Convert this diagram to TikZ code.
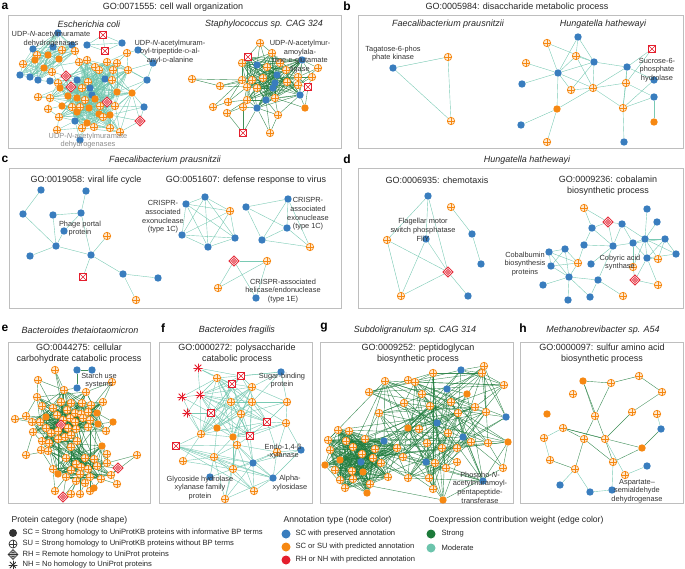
\documentclass[tikz,border=0pt]{standalone}
\usepackage{fontspec}
\setmainfont{Liberation Sans}
\usetikzlibrary{shapes.geometric}

\definecolor{cblue}{RGB}{57,125,190}
\definecolor{corange}{RGB}{246,136,18}
\definecolor{cred}{RGB}{228,30,45}
\definecolor{cstrong}{RGB}{28,122,58}
\definecolor{cmoder}{RGB}{108,196,172}
\definecolor{cframe}{RGB}{190,190,190}

\pgfdeclarelayer{edges}
\pgfsetlayers{edges,main}

\newcommand{\smD}{{\fontsize{5.6}{6}\selectfont D}}

\begin{document}
\begin{tikzpicture}[x=1pt,y=-1pt]
  \tikzset{nd/.style = {circle,inner sep=0pt,minimum size=7.4pt}}
  \tikzset{scb/.style = {nd,fill=cblue}}
  \tikzset{sco/.style = {nd,fill=corange}}
  \tikzset{cross/.style = {path picture={\draw[#1,line width=0.55pt] (path picture bounding box.north) -- (path picture bounding box.south) (path picture bounding box.west) -- (path picture bounding box.east);}}}
  \tikzset{xpic/.style = {path picture={\draw[#1,line width=0.55pt] (path picture bounding box.north west) -- (path picture bounding box.south east) (path picture bounding box.south west) -- (path picture bounding box.north east);}}}
  \tikzset{rhpic/.style = {path picture={\draw[#1,line width=0.55pt] (path picture bounding box.center) circle (2.4pt) (path picture bounding box.north) -- (path picture bounding box.south) (path picture bounding box.west) -- (path picture bounding box.east);}}}
  \tikzset{nhpic/.style = {path picture={\foreach \a in {0,45,90,135} \draw[#1,line width=0.8pt] ([shift={(\a:5pt)}]path picture bounding box.center) -- ([shift={(\a+180:5pt)}]path picture bounding box.center);}}}
  \tikzset{su/.style = {nd,draw=corange,fill=corange!18,line width=0.75pt,cross=corange}}
  \tikzset{rh/.style = {diamond,inner sep=0pt,minimum size=10.4pt,draw=cred,fill=white,line width=0.7pt,rhpic=cred}}
  \tikzset{rhx/.style = {rectangle,inner sep=0pt,minimum size=7.4pt,draw=cred,fill=white,line width=0.75pt,xpic=cred}}
  \tikzset{nh/.style = {nd,minimum size=9.5pt,nhpic=cred}}
  \tikzset{strong/.style = {draw=cstrong,line width=0.4pt,opacity=0.85}}
  \tikzset{moderate/.style = {draw=cmoder,line width=0.4pt,opacity=0.9}}
  \tikzset{frame/.style = {draw=cframe,line width=0.9pt}}
  \tikzset{ttl/.style = {font=\fontsize{9}{10.5}\selectfont,text=black!85,align=center}}
  \tikzset{spc/.style = {font=\fontsize{9}{10.5}\selectfont\itshape,text=black!85}}
  \tikzset{lbl/.style = {font=\fontsize{7.4}{8.7}\selectfont,text=black!80,align=center}}
  \tikzset{plt/.style = {font=\fontsize{12}{12}\selectfont\bfseries}}
  \tikzset{lgt/.style = {font=\fontsize{8.6}{10}\selectfont,text=black!85,anchor=west}}
  \tikzset{lgi/.style = {font=\fontsize{7.6}{8.4}\selectfont,text=black!85,anchor=west}}

  \useasboundingbox (0,0) rectangle (685,569);
  \pgfmathsetseed{5}

  % frames
  \draw[frame] (8,15) rectangle (341,148);
  \draw[frame] (358,15) rectangle (683,148);
  \draw[frame] (9,168) rectangle (341,308);
  \draw[frame] (358,168) rectangle (683,308);
  \draw[frame] (8,342) rectangle (150,503);
  \draw[frame] (159,342) rectangle (312,503);
  \draw[frame] (320,342) rectangle (513,503);
  \draw[frame] (520,342) rectangle (683,503);

  % panel letters and titles
  \node[plt] (pa) at (5,6) {a};
  \node[plt] (pb) at (347,6) {b};
  \node[plt] (pc) at (5,159) {c};
  \node[plt] (pd) at (347,159) {d};
  \node[plt] (pe) at (5,328) {e};
  \node[plt] (pf) at (163,328) {f};
  \node[plt] (pg) at (324,328) {g};
  \node[plt] (ph) at (523,328) {h};

  \node[ttl] (tia) at (173,7) {GO:0071555: cell wall organization};
  \node[ttl] (tib) at (517,7) {GO:0005984: disaccharide metabolic process};
  \node[spc] (spa1) at (89,24) {Escherichia coli};
  \node[spc] (spa2) at (264,24) {Staphylococcus sp. CAG 324};
  \node[spc] (spb1) at (448,24) {Faecalibacterium prausnitzii};
  \node[spc] (spb2) at (603,24) {Hungatella hathewayi};
  \node[spc] (spc) at (165,160) {Faecalibacterium prausnitzii};
  \node[spc] (spd) at (527,160) {Hungatella hathewayi};
  \node[ttl] (tic1) at (86,180) {GO:0019058: viral life cycle};
  \node[ttl] (tic2) at (246,180) {GO:0051607: defense response to virus};
  \node[ttl] (tid1) at (437,180) {GO:0006935: chemotaxis};
  \node[ttl] (tid2) at (608,185.5) {GO:0009236: cobalamin\\biosynthetic process};
  \node[spc] (spe) at (80,330) {Bacteroides thetaiotaomicron};
  \node[spc] (spf) at (237,330) {Bacteroides fragilis};
  \node[spc] (spg) at (415,330) {Subdoligranulum sp. CAG 314};
  \node[spc] (sph) at (603,330) {Methanobrevibacter sp. A54};
  \node[ttl] (tie) at (79,353.5) {GO:0044275: cellular\\carbohydrate catabolic process};
  \node[ttl] (tif) at (237,353.5) {GO:0000272: polysaccharide\\catabolic process};
  \node[ttl] (tig) at (418,353.5) {GO:0009252: peptidoglycan\\biosynthetic process};
  \node[ttl] (tih) at (602,353.5) {GO:0000097: sulfur amino acid\\biosynthetic process};

  % a: Escherichia coli
  \foreach \n/\x/\y/\s in {1/58/33/scb,2/33/49/scb,3/53/47/scb,4/48/55/sco,5/37/55/su,6/62/50/su,7/59/59/sco,8/72/45/scb,9/75/51/su,10/35/60/sco,11/23/64/su,12/44/68/sco,13/52/72/su,14/20/75/scb,15/30/77/scb,16/38/80/scb}
    \node[\s] (at\n) at (\x,\y) {};
  \foreach \n/\x/\y/\s in {1/87/45/scb,2/122/43/scb,3/103/35/rhx,4/105/51/rhx,5/138/50/scb,6/153/63/scb}
    \node[\s] (ap\n) at (\x,\y) {};
  \foreach \n/\x/\y/\s in {1/79/62/su,2/87/60/su,3/95/67/su,4/107/62/su,5/117/63/su,6/99/70/su,7/113/70/su,8/128/70/su,9/66/76/rh,10/58/83/su,11/77/80/scb,12/88/82/su,13/105/79/scb,14/112/80/su,15/71/87/rh,16/60/88/sco,17/90/88/scb,18/92/95/scb,19/82/88/su,20/117/92/sco,21/132/93/sco,22/68/96/sco,23/50/98/su,24/77/98/sco,25/85/100/su,26/95/99/sco,27/107/102/rh,28/100/106/su,29/115/106/su,30/62/106/sco,31/72/107/su,32/80/107/su,33/89/108/sco,34/59/117/su,35/77/112/sco,36/99/114/sco,37/110/115/sco,38/75/121/scb,39/87/123/sco,40/103/117/su,41/82/128/su,42/94/127/su,43/110/128/su,44/120/132/su,45/50/81/scb,46/38/97/su,47/48/109/su,48/57/130/su,49/147/80/scb,50/144/107/scb,51/140/121/rh,52/80/140/scb,53/127/53/su}
    \node[\s] (ac\n) at (\x,\y) {};

  % a: Staphylococcus
  \foreach \n/\x/\y/\s in {1/257/65/scb,2/267/67/su,3/280/63/su,4/272/53/su,5/286/70/su,6/277/75/scb,7/252/80/su,8/263/78/su,9/275/83/scb,10/287/82/su,11/247/87/su,12/257/88/su,13/273/88/scb,14/298/85/su,15/242/80/su,16/266/100/scb,17/275/98/su,18/247/100/su,19/257/108/scb,20/300/95/scb,21/298/77/su,22/242/63/su,23/248/57/rhx,24/302/60/scb,25/260/43/su,26/318/68/su,27/312/77/su,28/308/87/rhx,29/305/108/sco,30/278/115/su,31/243/107/su,32/228/102/su,33/227/113/su,34/213/107/su,35/220/86/su,36/192/79/su,37/243/133/rhx,38/270/133/su}
    \node[\s] (as\n) at (\x,\y) {};

  \begin{pgfonlayer}{edges}
    \foreach \i in {1,...,16}{
      \foreach \j in {1,...,16}{
        \ifnum\i<\j
          \pgfmathtruncatemacro\r{100*rnd}
          \ifnum\r<60 \draw[moderate] (at\i) -- (at\j);\fi
        \fi}}
    \foreach \i in {1,...,44}{
      \foreach \j in {1,...,44}{
        \ifnum\i<\j
          \pgfmathtruncatemacro\r{100*rnd}
          \ifnum\r<30 \draw[moderate] (ac\i) -- (ac\j);\fi
        \fi}}
    \foreach \from/\to in {45/10,45/11,45/9,46/23,46/22,46/16,47/23,47/30,47/34,48/34,48/38,48/41,49/8,49/21,49/5,49/20,50/21,50/29,50/37,51/50,51/37,51/44,51/21,52/41,52/38,52/39,53/4,53/5,53/8}
      \draw[moderate] (ac\from) -- (ac\to);
    \foreach \from/\to in {13/9,16/10,12/1,13/10,9/1,7/9}
      \draw[moderate] (at\from) -- (ac\to);
    \foreach \from/\to in {1/2,1/3,1/4,2/3,2/4,3/4,5/6}
      \draw[moderate] (ap\from) -- (ap\to);
    \draw[moderate] (ap5) -- (ac53);
    \draw[moderate] (ap6) -- (ac8);
    \draw[moderate] (ap6) -- (ac49);
    \foreach \i in {1,...,24}{
      \foreach \j in {1,...,24}{
        \ifnum\i<\j
          \pgfmathtruncatemacro\r{100*rnd}
          \ifnum\r<55 \draw[strong] (as\i) -- (as\j);\fi
        \fi}}
    \foreach \from/\to in {25/4,25/1,25/22,25/2,26/24,26/21,26/14,27/24,27/21,27/14,27/28,28/20,28/14,28/21,29/20,29/28,29/17,30/17,30/16,30/19,30/20,31/18,31/19,31/11,32/18,32/11,32/15,33/31,33/18,34/32,34/15,35/15,35/11,35/7,36/35,36/15,37/31,37/19,37/33,38/19,38/30,38/16}
      \draw[strong] (as\from) -- (as\to);
  \end{pgfonlayer}

  \node[lbl] (la1) at (51,39) {UDP-\textit{N}-acetylmuramate\\dehydrogenases};
  \node[lbl] (la2) at (170,52) {UDP-\textit{N}-acetylmuram-\\oyl-tripeptide-\smD-al-\\anyl-\smD-alanine};
  \node[lbl,text=black!45] (la3) at (88,140.5) {UDP-\textit{N}-acetylmuramate\\dehydrogenases};
  \node[lbl] (la4) at (300,56.5) {UDP-\textit{N}-acetylmur-\\amoylala-\\nine-\smD-glutamate\\ligase};

  % b
  \foreach \n/\x/\y/\s in {1/393/68/scb,2/448/57/su,3/451/121/su}
    \node[\s] (bf\n) at (\x,\y) {};
  \foreach \n/\x/\y/\s in {1/578/37/scb,2/547/43/su,3/576/56/su,4/652/49/rhx,5/526/63/su,6/594/62/scb,7/627/67/scb,8/558/73/scb,9/522/84/scb,10/626/83/su,11/654/80/scb,12/571/90/su,13/593/88/su,14/654/97/scb,15/557/109/sco,16/623/108/su,17/521/125/scb,18/654/122/sco,19/547/142/su,20/624/142/scb}
    \node[\s] (hb\n) at (\x,\y) {};
  \begin{pgfonlayer}{edges}
    \foreach \from/\to in {1/2,1/3,2/3}
      \draw[moderate] (bf\from) -- (bf\to);
    \foreach \from/\to in {1/3,1/6,1/8,2/8,2/6,3/8,3/6,3/13,6/8,6/7,6/13,6/12,7/4,7/10,7/13,7/16,7/11,8/5,8/9,8/15,8/13,8/12,10/13,10/16,10/14,10/4,14/16,14/18,16/13,16/20,15/17,15/19,15/13,12/13,11/16}
      \draw[moderate] (hb\from) -- (hb\to);
  \end{pgfonlayer}
  \node[lbl] (lb1) at (393,53.5) {Tagatose-6-phos\\phate kinase};
  \node[lbl] (lb2) at (657,70) {Sucrose-6-\\phosphate\\hydrolase};

  % c
  \foreach \n/\x/\y/\s in {1/41/190/scb,2/86/191/scb,3/23/214/scb,4/53/215/scb,5/81/213/scb,6/64/231/scb,7/107/236/su,8/56/246/scb,9/30/256/scb,10/91/255/scb,11/83/277/rhx,12/123/274/scb,13/158/278/scb,14/136/300/su}
    \node[\s] (cv\n) at (\x,\y) {};
  \foreach \n/\x/\y/\s in {1/186/204/scb,2/205/197/scb,3/230/211/su,4/182/235/scb,5/235/238/scb,6/208/247/scb}
    \node[\s] (cc\n) at (\x,\y) {};
  \foreach \n/\x/\y/\s in {1/246/207/scb,2/288/199/scb,3/287/228/scb,4/262/240/scb,5/310/247/su}
    \node[\s] (cd\n) at (\x,\y) {};
  \foreach \n/\x/\y/\s in {1/234/261/rh,2/267/261/su,3/218/288/su,4/256/298/scb}
    \node[\s] (ce\n) at (\x,\y) {};
  \begin{pgfonlayer}{edges}
    \foreach \from/\to in {1/3,3/8,2/5,4/5,4/8,5/6,6/8,5/10,7/10,8/10,8/9,10/11,10/12,12/13,12/14}
      \draw[moderate] (cv\from) -- (cv\to);
    \foreach \from/\to in {1/2,1/3,1/4,1/5,1/6,2/3,2/4,2/5,2/6,3/4,3/5,3/6,4/5,4/6,5/6}
      \draw[moderate] (cc\from) -- (cc\to);
    \foreach \from/\to in {1/2,1/3,1/4,2/3,2/4,2/5,3/4,3/5,4/5}
      \draw[moderate] (cd\from) -- (cd\to);
    \foreach \from/\to in {1/2,1/3,1/4,2/3,2/4}
      \draw[moderate] (ce\from) -- (ce\to);
  \end{pgfonlayer}
  \node[lbl] (lc1) at (80,228.5) {Phage portal\\protein};
  \node[lbl] (lc2) at (163,217) {CRISPR-\\associated\\exonuclease\\(type 1C)};
  \node[lbl] (lc3) at (308,214) {CRISPR-\\associated\\exonuclease\\(type 1C)};
  \node[lbl] (lc4) at (283,291) {CRISPR-associated\\helicase/endonuclease\\(type 1E)};

  % d
  \foreach \n/\x/\y/\s in {1/428/196/scb,2/451/207/su,3/387/240/su,4/426/239/scb,5/472/234/scb,6/481/264/scb,7/448/272/rh,8/401/296/su,9/468/296/scb}
    \node[\s] (dc\n) at (\x,\y) {};
  \foreach \n/\x/\y/\s in {1/584/208/su,2/647/209/scb,3/608/222/rh,4/622/224/scb,5/657/222/scb,6/592/228/scb,7/645/239/scb,8/665/239/scb,9/584/245/scb,10/613/246/scb,11/633/243/scb,12/676/254/scb,13/549/252/scb,14/565/249/scb,15/578/263/su,16/591/264/scb,17/647/258/scb,18/658/259/su,19/633/267/su,20/551/266/scb,21/569/277/scb,22/598/280/scb,23/635/280/rh,24/658/285/su,25/543/285/scb,26/590/297/scb,27/623/296/su,28/568/300/scb}
    \node[\s] (dk\n) at (\x,\y) {};
  \begin{pgfonlayer}{edges}
    \foreach \from/\to in {1/3,1/7,1/4,3/7,3/8,4/8,4/7,8/7,7/9,5/6,2/5}
      \draw[moderate] (dc\from) -- (dc\to);
    \foreach \from/\to in {1/6,1/3,3/6,3/4,3/10,6/9,6/10,4/10,4/11,2/7,5/7,7/11,7/8,7/12,7/17,8/17,8/12,10/11,11/17,11/19,7/19,7/18,17/18,17/23,19/23,23/24,17/24,10/9,8/18,11/8,12/17,4/7,13/14,13/20,13/21,14/20,14/15,14/21,20/21,15/21,20/15,21/22,21/25,21/26,21/28,22/26,22/27,22/10,15/9,13/15,16/10}
      \draw[moderate] (dk\from) -- (dk\to);
  \end{pgfonlayer}
  \node[lbl] (ld1) at (423,230) {Flagellar motor\\switch phosphatase\\FliY};
  \node[lbl] (ld2) at (525,264) {Cobalbumin\\biosynthesis\\proteins};
  \node[lbl] (ld3) at (620,262.5) {Cobyric acid\\synthase};

  % e
  \foreach \n/\x/\y/\s in {1/64/390/su,2/86/392/su,3/103/402/su,4/37/397/su,5/61/402/su,6/71/403/su,7/82/403/su,8/91/405/su,9/42/406/su,10/53/408/su,11/67/410/su,12/75/413/su,13/81/414/su,14/88/412/su,15/97/413/sco,16/46/417/sco,17/57/415/su,18/63/420/su,19/70/418/su,20/75/422/su,21/83/418/su,22/90/420/su,23/98/424/sco,24/32/422/su,25/40/422/su,26/61/425/rh,27/46/428/su,28/51/433/su,29/58/431/su,30/68/428/su,31/76/429/su,32/88/427/su,33/106/431/su,34/33/432/su,35/42/441/su,36/58/439/su,37/65/437/su,38/71/435/su,39/77/441/su,40/49/443/su,41/55/370/su,42/77/370/scb,43/92/370/scb,44/38/380/su,45/112/382/su,46/77/388/scb,47/113/422/sco,48/26/416/su,49/15/419/su,50/41/450/su,51/26/455/su}
    \node[\s] (eu\n) at (\x,\y) {};
  \foreach \n/\x/\y/\s in {1/71/447/su,2/102/446/sco,3/66/458/su,4/85/458/su,5/94/459/su,6/76/464/su,7/81/467/su,8/88/469/su,9/71/470/su,10/97/466/su,11/107/463/su,12/53/469/su,13/58/474/sco,14/66/477/su,15/80/474/su,16/90/477/su,17/111/475/su,18/101/479/su,19/76/481/su,20/85/483/su,21/48/451/su,22/107/454/su,23/137/455/su,24/118/468/rh,25/55/491/su,26/63/497/rh,27/71/494/su,28/80/494/su,29/90/491/su,30/94/488/sco,31/117/484/su}
    \node[\s] (el\n) at (\x,\y) {};
  \begin{pgfonlayer}{edges}
    \foreach \i in {1,...,40}{
      \foreach \j in {1,...,40}{
        \ifnum\i<\j
          \pgfmathtruncatemacro\r{100*rnd}
          \ifnum\r<30 \draw[strong] (eu\i) -- (eu\j);\fi
        \fi}}
    \foreach \i in {1,...,21}{
      \foreach \j in {1,...,21}{
        \ifnum\i<\j
          \pgfmathtruncatemacro\r{100*rnd}
          \ifnum\r<45 \draw[strong] (el\i) -- (el\j);\fi
        \fi}}
    \foreach \i in {1,...,40}{
      \foreach \j in {1,...,21}{
        \pgfmathtruncatemacro\r{100*rnd}
        \ifnum\r<5 \draw[strong] (eu\i) -- (el\j);\fi}}
    \foreach \from/\to in {41/1,41/5,41/11,42/43,42/46,46/1,44/1,44/4,44/10,45/3,45/2,45/14,47/33,47/15,47/23,48/4,48/16,49/24,49/16,50/35,50/40,51/34}
      \draw[strong] (eu\from) -- (eu\to);
    \foreach \from/\to in {22/11,22/2,23/11,23/17,24/11,24/17,24/10,25/12,25/14,26/19,26/14,27/19,27/15,28/20,28/15,29/20,29/16,30/16,30/18,31/17,31/18}
      \draw[strong] (el\from) -- (el\to);
    \draw[strong] (eu50) -- (el12);
    \draw[strong] (eu51) -- (el21);
  \end{pgfonlayer}
  \node[lbl] (le1) at (99,380.5) {Starch use\\systems};

  % f
  \foreach \n/\x/\y/\s in {1/217/378/su,2/241/376/rhx,3/232/384/rhx,4/252/387/su,5/200/395/nh,6/231/402/su,7/252/402/su,8/211/413/rhx,9/241/414/su,10/267/422/rhx,11/217/428/sco,12/233/437/sco,13/250/436/rhx,14/201/434/su,15/198/368/nh,16/281/372/scb,17/182/397/nh,18/287/402/su,19/187/413/nh,20/286/423/su}
    \node[\s] (fu\n) at (\x,\y) {};
  \foreach \n/\x/\y/\s in {1/176/446/rhx,2/237/445/su,3/183/461/su,4/214/457/su,5/277/452/su,6/301/450/scb,7/253/463/scb,8/233/469/su,9/273/478/scb,10/210/477/scb,11/254/491/su,12/225/499/su}
    \node[\s] (fl\n) at (\x,\y) {};
  \begin{pgfonlayer}{edges}
    \foreach \i in {1,...,14}{
      \foreach \j in {1,...,14}{
        \ifnum\i<\j
          \pgfmathtruncatemacro\r{100*rnd}
          \ifnum\r<75 \draw[moderate] (fu\i) -- (fu\j);\fi
        \fi}}
    \foreach \from/\to in {15/1,15/2,15/5,15/3,16/4,16/2,16/18,16/7,16/1,17/5,17/8,17/1,17/14,18/7,18/10,18/4,18/20,18/9,19/5,19/8,19/14,19/11,20/10,20/13,20/7,20/12}
      \draw[moderate] (fu\from) -- (fu\to);
    \foreach \from/\to in {1/2,1/4,1/7,1/8,1/11,2/5,2/4,2/7,2/8,2/9,2/11,2/12,3/4,4/7,4/8,4/11,4/12,4/9,5/6,5/7,5/9,6/7,7/8,7/9,7/11,8/9,8/11,8/12,9/11,9/12,10/8,10/4,12/7,3/8,1/9,5/8,6/9}
      \draw[moderate] (fl\from) -- (fl\to);
    \foreach \from/\to in {1/14,2/12,2/13,4/11,5/10,7/13,2/9,3/14,5/20,6/20,8/12,4/12,7/9}
      \draw[moderate] (fl\from) -- (fu\to);
  \end{pgfonlayer}
  \node[lbl] (lf1) at (282,380.5) {Sugar-binding\\protein};
  \node[lbl] (lf2) at (283,451.5) {Endo-1,4-β\\-xylanase};
  \node[lbl] (lf3) at (200,488) {Glycoside hydrolase\\xylanase family\\protein};
  \node[lbl] (lf4) at (290,483) {Alpha-\\xylosidase};

  % g
  \foreach \n/\x/\y/\s in {1/349/431/su,2/365/439/su,3/346/441/su,4/384/441/scb,5/353/447/su,6/375/449/su,7/362/454/su,8/373/458/su,9/361/462/scb,10/381/463/su,11/352/471/su,12/363/472/sco,13/388/477/su,14/353/479/su,15/340/460/sco,16/330/450/su,17/335/470/su,18/325/465/sco,19/340/480/su,20/328/440/su,21/345/488/su,22/370/484/su,23/367/493/sco,24/338/430/su,25/397/448/su}
    \node[\s] (gb\n) at (\x,\y) {};
  \foreach \n/\x/\y/\s in {1/484/366/su,2/461/370/scb,3/482/373/su,4/433/373/su,5/385/381/su,6/408/380/su,7/415/382/su,8/504/385/su,9/369/392/su,10/447/389/scb,11/467/394/sco,12/422/394/su,13/451/402/su,14/404/403/su,15/430/406/su,16/475/407/su,17/458/413/su,18/486/412/su,19/379/413/su,20/506/417/scb,21/437/423/scb,22/408/428/sco,23/419/429/su,24/448/433/su,25/463/437/scb,26/427/443/su,27/471/442/su,28/488/443/su,29/508/442/sco,30/403/457/su,31/442/448/su,32/457/448/su,33/457/462/su,34/435/463/su,35/426/462/scb,36/446/468/su,37/503/468/su,38/408/478/su,39/429/478/su,40/483/481/scb,41/433/489/su,42/443/500/sco}
    \node[\s] (gr\n) at (\x,\y) {};
  \begin{pgfonlayer}{edges}
    \foreach \i in {1,...,25}{
      \foreach \j in {1,...,25}{
        \ifnum\i<\j
          \pgfmathtruncatemacro\r{100*rnd}
          \ifnum\r<75 \draw[strong] (gb\i) -- (gb\j);\fi
        \fi}}
    \foreach \i in {1,...,42}{
      \foreach \j in {1,...,42}{
        \ifnum\i<\j
          \pgfmathtruncatemacro\r{100*rnd}
          \ifnum\r<15 \draw[strong] (gr\i) -- (gr\j);\fi
        \fi}}
    \foreach \i in {1,...,25}{
      \foreach \j in {1,...,42}{
        \pgfmathtruncatemacro\r{100*rnd}
        \ifnum\r<4 \draw[strong] (gb\i) -- (gr\j);\fi}}
  \end{pgfonlayer}
  \node[lbl] (lg1) at (480,487.5) {Phospho-\textit{N}-\\acetylmuramoyl-\\pentapeptide-\\transferase};

  % h
  \foreach \n/\x/\y/\s in {1/583/381/sco,2/611/383/su,3/639/376/su,4/573/394/su,5/662/392/su,6/547/414/sco,7/595/416/su,8/632/412/su,9/657/414/su,10/661/429/scb,11/563/428/su,12/544/438/su,13/584/439/su,14/605/439/su,15/642/448/sco,16/550/460/su,17/613/462/su,18/575/469/su,19/647/466/scb,20/625/475/su,21/560/485/scb,22/590/492/scb,23/612/490/scb}
    \node[\s] (hn\n) at (\x,\y) {};
  \begin{pgfonlayer}{edges}
    \foreach \from/\to in {1/2,2/3,3/5,5/8,1/7,2/7,1/14,8/14,7/13,11/14,11/15,16/18,13/18,14/17,17/15,15/10,13/17,11/13}
      \draw[strong] (hn\from) -- (hn\to);
    \foreach \from/\to in {12/16,18/21,18/22,22/23,17/23,9/10,20/19,14/20,11/12}
      \draw[moderate] (hn\from) -- (hn\to);
  \end{pgfonlayer}
  \node[lbl] (lh1) at (637,491) {Aspartate–\\semialdehyde\\dehydrogenase};

  % legend
  \node[lgt] (lgA) at (8,520) {Protein category (node shape)};
  \node[nd,minimum size=8pt,fill=black!80] (sy1) at (13,533) {};
  \node[nd,minimum size=8pt,draw=black!80,fill=white,line width=0.7pt,cross=black!80] (sy2) at (13,544) {};
  \node[diamond,inner sep=0pt,minimum size=10pt,draw=black!80,fill=white,line width=0.7pt,rhpic=black!80] (sy3) at (13,554.5) {};
  \node[nd,minimum size=9pt,nhpic=black!80] (sy4) at (13,565) {};
  \node[lgi] (tx1) at (19,533) {SC = Strong homology to UniProtKB proteins with informative BP terms};
  \node[lgi] (tx2) at (19,544) {SU = Strong homology to UniProtKB proteins without BP terms};
  \node[lgi] (tx3) at (19,554.5) {RH = Remote homology to UniProt proteins};
  \node[lgi] (tx4) at (19,565) {NH = No homology to UniProt proteins};

  \node[lgt] (lgB) at (280,520) {Annotation type (node color)};
  \node[nd,minimum size=9pt,fill=cblue] (sy5) at (286,534) {};
  \node[nd,minimum size=9pt,fill=corange] (sy6) at (286,547) {};
  \node[nd,minimum size=9pt,fill=cred] (sy7) at (286,560) {};
  \node[lgi] (tx5) at (292,534) {SC with preserved annotation};
  \node[lgi] (tx6) at (292,547) {SC or SU with predicted annotation};
  \node[lgi] (tx7) at (292,560) {RH or NH with predicted annotation};

  \node[lgt] (lgC) at (425,520) {Coexpression contribution weight (edge color)};
  \node[nd,minimum size=9pt,fill=cstrong] (sy8) at (431,534) {};
  \node[nd,minimum size=9pt,fill=cmoder] (sy9) at (431,548) {};
  \node[lgi] (tx8) at (438,534) {Strong};
  \node[lgi] (tx9) at (438,548) {Moderate};
\end{tikzpicture}
\end{document}
